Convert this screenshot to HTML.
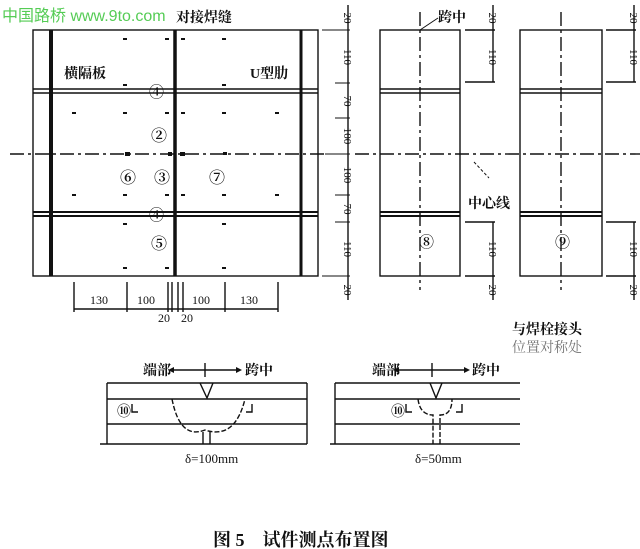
<!DOCTYPE html>
<html><head><meta charset="utf-8"><style>
html,body{margin:0;padding:0;background:#fff;}
svg{display:block;}
text{font-family:"Liberation Serif","Noto Serif CJK SC","Noto Sans CJK SC",serif;fill:#111;}
.b{font-weight:bold;}
.c{font-weight:bold;}
</style></head><body>
<svg width="640" height="549" viewBox="0 0 640 549" xmlns="http://www.w3.org/2000/svg">
<g stroke="#111" fill="none" stroke-width="1.4">
<rect x="33" y="30" width="285" height="246"/>
<line x1="51" y1="30" x2="51" y2="276" stroke-width="4"/>
<line x1="175" y1="30" x2="175" y2="276" stroke-width="3.5"/>
<line x1="301" y1="30" x2="301" y2="276" stroke-width="3"/>
<line x1="33" y1="89" x2="318" y2="89"/><line x1="33" y1="93" x2="318" y2="93"/>
<line x1="33" y1="212" x2="318" y2="212" stroke-width="2"/><line x1="33" y1="216" x2="318" y2="216" stroke-width="2"/>
<line x1="10" y1="154" x2="325" y2="154" stroke-dasharray="14,4,3,4"/>
<line x1="74" y1="309" x2="278" y2="309"/>
<line x1="74" y1="282" x2="74" y2="312"/><line x1="127" y1="282" x2="127" y2="312"/>
<line x1="168" y1="282" x2="168" y2="312"/><line x1="172" y1="282" x2="172" y2="312"/>
<line x1="178" y1="282" x2="178" y2="312"/><line x1="183" y1="282" x2="183" y2="312"/>
<line x1="225" y1="282" x2="225" y2="312"/><line x1="278" y1="282" x2="278" y2="312"/>
<line x1="348" y1="5" x2="348" y2="300"/>
<g stroke-width="1">
<line x1="322" y1="30" x2="350" y2="30"/><line x1="335" y1="83" x2="350" y2="83"/>
<line x1="335" y1="118" x2="350" y2="118"/><line x1="325" y1="154" x2="350" y2="154"/>
<line x1="335" y1="195" x2="350" y2="195"/><line x1="335" y1="222" x2="350" y2="222"/>
<line x1="322" y1="276" x2="350" y2="276"/>
</g>
<rect x="380" y="30" width="80" height="246"/>
<line x1="420" y1="12" x2="420" y2="290" stroke-dasharray="14,4,3,4"/>
<line x1="380" y1="89" x2="460" y2="89"/><line x1="380" y1="93" x2="460" y2="93"/>
<line x1="380" y1="212" x2="460" y2="212" stroke-width="2"/><line x1="380" y1="216" x2="460" y2="216" stroke-width="2"/>
<line x1="355" y1="154" x2="505" y2="154" stroke-dasharray="14,4,3,4"/>
<line x1="493" y1="5" x2="493" y2="82"/><line x1="493" y1="222" x2="493" y2="300"/>
<line x1="465" y1="30" x2="495" y2="30"/><line x1="465" y1="82" x2="495" y2="82"/>
<line x1="465" y1="222" x2="495" y2="222"/><line x1="465" y1="276" x2="495" y2="276"/>
<line x1="420" y1="30" x2="438" y2="18" stroke-width="1"/>
<line x1="474" y1="162" x2="489" y2="178" stroke-dasharray="3,2" stroke-width="1"/>
<rect x="520" y="30" width="82" height="246"/>
<line x1="561" y1="12" x2="561" y2="290" stroke-dasharray="14,4,3,4"/>
<line x1="520" y1="89" x2="602" y2="89"/><line x1="520" y1="93" x2="602" y2="93"/>
<line x1="520" y1="212" x2="602" y2="212" stroke-width="2"/><line x1="520" y1="216" x2="602" y2="216" stroke-width="2"/>
<line x1="505" y1="154" x2="640" y2="154" stroke-dasharray="14,4,3,4"/>
<line x1="634" y1="5" x2="634" y2="82"/><line x1="634" y1="222" x2="634" y2="300"/>
<line x1="606" y1="30" x2="636" y2="30"/><line x1="606" y1="82" x2="636" y2="82"/>
<line x1="606" y1="222" x2="636" y2="222"/><line x1="606" y1="276" x2="636" y2="276"/>
<line x1="107" y1="383" x2="307" y2="383"/><line x1="107" y1="399" x2="307" y2="399"/>
<line x1="107" y1="424" x2="307" y2="424"/><line x1="100" y1="444" x2="307" y2="444"/>
<line x1="107" y1="383" x2="107" y2="444"/><line x1="307" y1="383" x2="307" y2="444"/>
<path d="M200 383 L207 398 L213 383"/>
<path d="M172 399 Q180 440 205 430 Q235 440 245 399" stroke-dasharray="5,2"/>
<path d="M203 432 L203 444 M210 432 L210 444"/>
<path d="M132 404 L132 412 L138 412 M252 404 L252 412 L246 412"/>
<line x1="335" y1="383" x2="520" y2="383"/><line x1="335" y1="399" x2="520" y2="399"/>
<line x1="335" y1="424" x2="520" y2="424"/><line x1="330" y1="444" x2="520" y2="444"/>
<line x1="335" y1="383" x2="335" y2="444"/>
<path d="M430 383 L436 398 L442 383"/>
<path d="M418 399 Q420 415 433 415 L433 444 M440 444 L440 415 Q452 415 452 399" stroke-dasharray="5,2"/>
<path d="M406 404 L406 412 L412 412 M462 404 L462 412 L456 412"/>
<line x1="170" y1="370" x2="240" y2="370"/><line x1="205" y1="363" x2="205" y2="377"/>
<line x1="395" y1="370" x2="468" y2="370"/><line x1="432" y1="363" x2="432" y2="377"/>
</g>
<g fill="#111">
<path d="M168 370 l6 -3 v6z"/><path d="M242 370 l-6 -3 v6z"/>
<path d="M393 370 l6 -3 v6z"/><path d="M470 370 l-6 -3 v6z"/>
<rect x="123" y="38" width="4" height="2"/><rect x="165" y="38" width="4" height="2"/><rect x="181" y="38" width="4" height="2"/><rect x="222" y="38" width="4" height="2"/>
<rect x="123" y="84" width="4" height="2"/><rect x="222" y="84" width="4" height="2"/>
<rect x="72" y="112" width="4" height="2"/><rect x="123" y="112" width="4" height="2"/><rect x="165" y="112" width="4" height="2"/><rect x="181" y="112" width="4" height="2"/><rect x="222" y="112" width="4" height="2"/><rect x="275" y="112" width="4" height="2"/>
<rect x="125" y="152" width="5" height="4"/><rect x="168" y="152" width="4" height="4"/><rect x="180" y="152" width="5" height="4"/><rect x="223" y="152" width="4" height="3"/>
<rect x="72" y="194" width="4" height="2"/><rect x="123" y="194" width="4" height="2"/><rect x="165" y="194" width="4" height="2"/><rect x="181" y="194" width="4" height="2"/><rect x="222" y="194" width="4" height="2"/><rect x="275" y="194" width="4" height="2"/>
<rect x="123" y="223" width="4" height="2"/><rect x="222" y="223" width="4" height="2"/>
<rect x="123" y="267" width="4" height="2"/><rect x="165" y="267" width="4" height="2"/><rect x="222" y="267" width="4" height="2"/>
</g>
<g font-size="12">
<text x="2" y="21" style="fill:#5c5;font-size:16px;font-family:'Liberation Sans','Noto Sans CJK SC',sans-serif">中国路桥 www.9to.com</text>
<text x="176" y="22" class="b" font-size="14">对接焊缝</text>
<text x="64" y="78" class="b" font-size="14">横隔板</text>
<text x="250" y="78" class="b" font-size="14">U型肋</text>
<text x="149" y="97" class="c" font-size="15">④</text>
<text x="151" y="141" class="c" font-size="16">②</text>
<text x="120" y="183" class="c" font-size="16">⑥</text>
<text x="154" y="183" class="c" font-size="16">③</text>
<text x="209" y="183" class="c" font-size="16">⑦</text>
<text x="149" y="220" class="c" font-size="15">④</text>
<text x="151" y="249" class="c" font-size="16">⑤</text>
<text x="419" y="247" class="c" font-size="15">⑧</text>
<text x="555" y="247" class="c" font-size="15">⑨</text>
<text x="438" y="22" class="b" font-size="14">跨中</text>
<text x="468" y="208" class="b" font-size="14">中心线</text>
<text x="512" y="334" class="b" font-size="14">与焊栓接头</text>
<text x="512" y="352" font-size="14" opacity="0.6">位置对称处</text>
<text x="90" y="304" font-size="12">130</text><text x="137" y="304" font-size="12">100</text>
<text x="192" y="304" font-size="12">100</text><text x="240" y="304" font-size="12">130</text>
<text x="158" y="322" font-size="12">20</text><text x="181" y="322" font-size="12">20</text>
<text x="143" y="375" class="b" font-size="14">端部</text><text x="245" y="375" class="b" font-size="14">跨中</text>
<text x="372" y="375" class="b" font-size="14">端部</text><text x="472" y="375" class="b" font-size="14">跨中</text>
<text x="117" y="416" class="c" font-size="14">⑩</text><text x="391" y="416" class="c" font-size="14">⑩</text>
<text x="185" y="463" font-size="13">δ=100mm</text>
<text x="415" y="463" font-size="13">δ=50mm</text>
<text x="213" y="546" class="b" font-size="18">图 5　试件测点布置图</text>
</g>
<g font-size="11">
<g transform="translate(344,18) rotate(90)"><text text-anchor="middle">20</text></g>
<g transform="translate(344,57) rotate(90)"><text text-anchor="middle">110</text></g>
<g transform="translate(344,101) rotate(90)"><text text-anchor="middle">70</text></g>
<g transform="translate(344,136) rotate(90)"><text text-anchor="middle">100</text></g>
<g transform="translate(344,175) rotate(90)"><text text-anchor="middle">100</text></g>
<g transform="translate(344,209) rotate(90)"><text text-anchor="middle">70</text></g>
<g transform="translate(344,249) rotate(90)"><text text-anchor="middle">110</text></g>
<g transform="translate(344,290) rotate(90)"><text text-anchor="middle">20</text></g>
<g transform="translate(489,18) rotate(90)"><text text-anchor="middle">20</text></g>
<g transform="translate(489,57) rotate(90)"><text text-anchor="middle">110</text></g>
<g transform="translate(489,249) rotate(90)"><text text-anchor="middle">110</text></g>
<g transform="translate(489,290) rotate(90)"><text text-anchor="middle">20</text></g>
<g transform="translate(630,18) rotate(90)"><text text-anchor="middle">20</text></g>
<g transform="translate(630,57) rotate(90)"><text text-anchor="middle">110</text></g>
<g transform="translate(630,249) rotate(90)"><text text-anchor="middle">110</text></g>
<g transform="translate(630,290) rotate(90)"><text text-anchor="middle">20</text></g>
</g>
</svg>
</body></html>
